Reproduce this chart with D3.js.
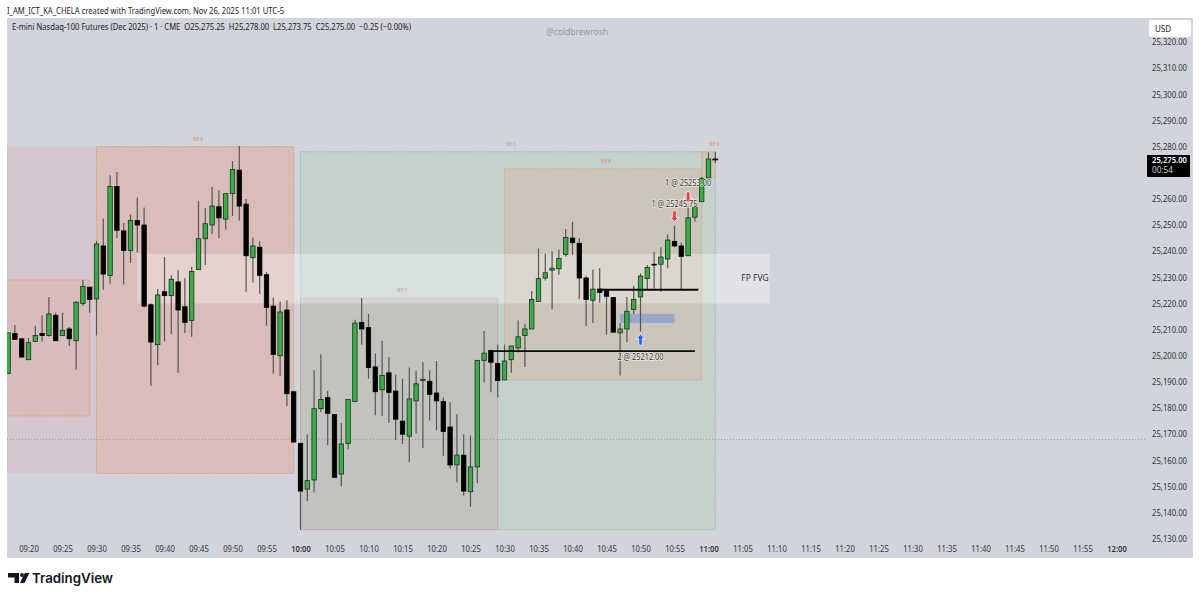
<!DOCTYPE html>
<html>
<head>
<meta charset="utf-8">
<script src="https://cdn.jsdelivr.net/npm/d3@7"></script>
<style>
html, body { margin: 0; padding: 0; background: #fff; }
svg { display: block; font-family: "Noto Sans", sans-serif; }
</style>
</head>
<body>
<svg id="chart" width="1200" height="598"></svg>
<script>
'use strict';

// minutes since midnight of the first bar (09:17), one bar per minute
var firstBar = 557;

var opens = [25193.25,25208.5,25206.5,25198.5,25205.5,25208.5,25207.75,25215.5,25207.75,25210.25,25205.75,25220,25226.25,25221.75,25242,25230.75,25264.75,25247.75,25240.25,25251.75,25250,25219.5,25204.25,25224.5,25223,25228.25,25218.75,25213.5,25233,25244.75,25250,25257,25252.25,25262,25271,25258,25237.5,25241.5,25231,25219,25200,25217.5,25186.25,25166.5,25149,25152.5,25179.75,25184,25177.5,25154.75,25166.5,25182.5,25212.75,25210.75,25195.75,25187,25193.5,25186.5,25175,25169.25,25182.75,25190.5,25190.25,25185.75,25182.5,25172.75,25158.25,25162,25148,25157.5,25198.25,25202,25197,25190.75,25198.5,25203,25207.75,25210.25,25220.75,25229.75,25232.75,25233.25,25238.75,25245,25243,25229.75,25221.25,25225.5,25225,25222.25,25208.75,25210.25,25217.75,25222.5,25229.5,25235,25235,25237,25243.75,25242,25238.25,25253,25259,25268,25275.25];
var highs = [25208.75,25211.75,25206.5,25206.75,25211.5,25215.5,25222.5,25216.5,25216.5,25211,25220.75,25229,25226.25,25244,25252.5,25269,25270.25,25250.75,25254,25260.5,25256.75,25220,25225.5,25237.75,25230.75,25232.75,25229.75,25234,25259.25,25256.5,25264.5,25263.25,25262,25274.5,25280.25,25260,25245.25,25243.75,25232,25222.25,25220.75,25221.25,25186.25,25166.5,25170,25194.5,25200.5,25186.5,25177.5,25174.25,25183.25,25213.75,25222,25216,25201,25205.75,25199.5,25192.75,25191.25,25195.5,25194.25,25197.5,25194.5,25198,25184,25182.25,25177.5,25170,25169.5,25198.25,25209.5,25202.25,25204.25,25204.25,25203.75,25213.5,25212.25,25224.75,25241,25239,25240,25240.5,25248.5,25251.25,25245,25230.5,25233,25233.5,25225.5,25222.25,25212.5,25222.5,25226.75,25231.5,25234.75,25239.75,25241.5,25246.5,25249.75,25243.25,25257,25258,25268.5,25277.75,25278];
var lows = [25193.25,25206.25,25199.5,25198.5,25205.5,25205.5,25207.25,25205.75,25207.75,25203.75,25194.75,25219,25216.5,25207.75,25225.25,25227.5,25245,25227.25,25235.5,25239.5,25218.5,25188.5,25196.5,25205.5,25208.25,25193.5,25208.75,25207.25,25233,25234.75,25246.5,25245,25248.25,25253.5,25251.75,25224.5,25228,25223.75,25211.5,25193.25,25192.25,25180.75,25167,25133.5,25144.5,25147.75,25178.5,25165.75,25153.5,25150,25164.25,25182.5,25204.25,25191.25,25177.25,25177,25174.25,25167.75,25166.25,25159.25,25170.25,25164.75,25175.25,25171.5,25161.75,25156.75,25151.5,25146.5,25142.25,25151.25,25189.75,25186,25184,25190.75,25193.5,25201.25,25195.75,25210.25,25220.75,25228.75,25217.75,25231,25238,25238.5,25221.75,25211.25,25212.5,25220.25,25208,25209,25192.5,25205.25,25216,25209.25,25225.25,25225.75,25224.5,25233.5,25241.5,25225.5,25238.25,25251.25,25259,25268,25273.75];
var closes = [25208.75,25206.25,25199.5,25205,25207.75,25207.75,25216,25205.75,25209.75,25206.5,25220.5,25226.5,25221.5,25242.75,25231.25,25264.75,25248,25240.25,25251.75,25250,25219,25205.25,25223.25,25223,25229.25,25217.5,25212.75,25232.25,25244.75,25250.5,25257.25,25252.75,25262,25271.25,25257.25,25238.25,25242,25230.75,25218.5,25200.5,25216.75,25185.5,25167,25148.25,25152.25,25179.75,25183.25,25178,25153.5,25166.25,25183.25,25212.5,25210.25,25195.5,25186.25,25192.5,25186,25175.75,25170,25183.5,25189.25,25191,25185.25,25182.75,25171,25158.25,25162,25148.25,25157.5,25198.25,25201,25197.5,25190.5,25198,25203.75,25207.25,25210.25,25221.5,25229.5,25231.75,25233.5,25237.25,25245.25,25243.25,25229.75,25221.5,25225.5,25224.25,25222.75,25209,25210.25,25217,25221.5,25230.5,25233.75,25234.75,25237.75,25244.25,25242,25238,25252.75,25256.75,25267.75,25275.25,25275];

// 25,270 sits behind the last price flag, so it is left out
var priceTicks = [25320,25310,25300,25290,25280,25260,25250,25240,25230,25220,25210,25200,25190,25180,25170,25160,25150,25140,25130];
var timeTicks = [560,565,570,575,580,585,590,595,600,605,610,615,620,625,630,635,640,645,650,655,660,665,670,675,680,685,690,695,700,705,710,715,720];
var boldTimes = [600,660,720];

// session boxes: minutes and prices
var boxNames = ["NY 5","NY 4","NY 6","NY C","NY 7","NY 8","NY 9"];
var boxStart = [540,540,570,600,600,630,659];
var boxEnd = [570,569,599,661,629,659,661];
var boxTop = [25280,25229,25280,25278,25222,25271.5,25278];
var boxBottom = [25155,25177,25155,25133.5,25133.5,25190.75,25268];
var boxFill = ["#d6c6cf","#d7bcbb","#d9bdb9","#c3d2ce","#c2c2bf","#cac5b8","#cac6b9"];
var boxStroke = ["none","#e39a7c","#e39a7c","#93c39c","#c49a96","#dba883","#dba883"];
var boxLabelColor = ["none","none","#e8985e","#8cc596","#c0726c","#e8985e","#e8985e"];

var fvgPrices = [25239,25220];
var fvgTimes = [576,669];
var blueZonePrices = [25216,25212.5];
var blueZoneTimes = [647,655];
var lineLevels = [25225.25,25201.75];
var lineStart = [644,628];
var lineEnd = [658.5,658];
var tradeTexts = ["1 @ 25253.00","1 @ 25245.75","2 @ 25212.00"];
var tradeTime = [657,655,650];
var tradePrice = [25264.9,25256.9,25198.4];
var arrowTime = [650,655,657];
var arrowPrice = [25208.25,25251.25,25258.5];
var arrowDir = [1,-1,-1];
var arrowColor = ["#2962ff","#f23645","#f23645"];
var sessionLow = 25168;
var lastPrice = "25,275.00";
var countdown = "00:54";

var paneLeft = 7, paneRight = 1193, plotRight = 1147, paneTop = 18, paneBottom = 558;

var x = d3.scaleLinear().domain([600, 660]).range([300.5, 708.5]);
var y = d3.scaleLinear().domain([25320, 25130]).range([42, 538.8]);

var svg = d3.select("#chart");

svg.append("rect").attr("x", paneLeft).attr("y", paneTop).attr("width", paneRight - paneLeft).attr("height", paneBottom - paneTop).attr("fill", "#d1d4dc");

svg.append("defs").append("clipPath").attr("id", "plot")
    .append("rect").attr("x", paneLeft).attr("y", paneTop).attr("width", plotRight - paneLeft).attr("height", paneBottom - paneTop);

var plot = svg.append("g").attr("clip-path", "url(#plot)");

// boxes
plot.selectAll("rect.box").data(boxNames).enter().append("rect")
    .attr("class", "box")
    .attr("x", function (d, i) { return x(boxStart[i]); })
    .attr("y", function (d, i) { return y(boxTop[i]); })
    .attr("width", function (d, i) { return x(boxEnd[i]) - x(boxStart[i]); })
    .attr("height", function (d, i) { return y(boxBottom[i]) - y(boxTop[i]); })
    .attr("fill", function (d, i) { return boxFill[i]; })
    .attr("stroke", function (d, i) { return boxStroke[i]; })
    .attr("stroke-width", 1)
    .attr("stroke-dasharray", "1.5 1");

// only the boxes inside the view show their name
boxNames.forEach(function (name, i) {
    if (boxLabelColor[i] === "none") return;
    plot.append("text")
        .attr("x", name === "NY 9" ? x(boxEnd[i]) - 1 : (x(boxStart[i]) + x(boxEnd[i])) / 2 + 3)
        .attr("y", y(boxTop[i]) - 6)
        .attr("text-anchor", "middle")
        .attr("font-size", 4.5)
        .attr("font-weight", 600)
        .attr("fill", boxLabelColor[i])
        .text(name);
});

// fair value gap band
plot.append("rect")
    .attr("x", x(fvgTimes[0])).attr("y", y(fvgPrices[0]))
    .attr("width", x(fvgTimes[1]) - x(fvgTimes[0]))
    .attr("height", y(fvgPrices[1]) - y(fvgPrices[0]))
    .attr("fill", "#fff").attr("fill-opacity", 0.32);

plot.append("text")
    .attr("x", 755).attr("y", 281)
    .attr("text-anchor", "middle").attr("font-size", 8.5).attr("fill", "#333")
    .text("FP FVG");

plot.append("rect")
    .attr("x", x(blueZoneTimes[0])).attr("y", y(blueZonePrices[0]))
    .attr("width", x(blueZoneTimes[1]) - x(blueZoneTimes[0]))
    .attr("height", y(blueZonePrices[1]) - y(blueZonePrices[0]))
    .attr("fill", "#9aa8cc");

plot.append("line")
    .attr("x1", paneLeft).attr("x2", plotRight)
    .attr("y1", y(sessionLow)).attr("y2", y(sessionLow))
    .attr("stroke", "#8a8a8a").attr("stroke-width", 0.7).attr("stroke-dasharray", "1 2");

// candles
var candles = plot.selectAll("g.candle").data(opens).enter().append("g")
    .attr("class", "candle")
    .attr("transform", function (d, i) { return "translate(" + x(firstBar + i) + ",0)"; });

candles.append("line")
    .attr("y1", function (d, i) { return y(highs[i]); })
    .attr("y2", function (d, i) { return y(lows[i]); })
    .attr("stroke", "#555").attr("stroke-width", 1.2);

candles.append("rect")
    .attr("x", -2.2).attr("width", 4.4)
    .attr("y", function (d, i) { return y(Math.max(opens[i], closes[i])); })
    .attr("height", function (d, i) { return Math.max(0.8, Math.abs(y(opens[i]) - y(closes[i]))); })
    .attr("fill", function (d, i) { return closes[i] >= opens[i] ? "#3cab4a" : "#000"; })
    .attr("stroke", function (d, i) { return closes[i] >= opens[i] ? "#14301a" : "#000"; })
    .attr("stroke-width", 0.8);

// horizontal levels
plot.selectAll("line.level").data(lineLevels).enter().append("line")
    .attr("class", "level")
    .attr("x1", function (d, i) { return x(lineStart[i]); })
    .attr("x2", function (d, i) { return x(lineEnd[i]); })
    .attr("y1", function (d) { return y(d); })
    .attr("y2", function (d) { return y(d); })
    .attr("stroke", "#0a0a0a").attr("stroke-width", 1.8);

// trade arrows and their labels
plot.selectAll("path.arrow").data(arrowTime).enter().append("path")
    .attr("class", "arrow")
    .attr("transform", function (d, i) { return "translate(" + x(d) + "," + y(arrowPrice[i]) + ") scale(1," + arrowDir[i] + ")"; })
    .attr("d", "M0,0 L4.5,4.8 L1.8,4.2 L1.8,11 L-1.8,11 L-1.8,4.2 L-4.5,4.8 Z")
    .attr("fill", function (d, i) { return arrowColor[i]; })
    .attr("stroke", "#fff").attr("stroke-opacity", 0.8).attr("stroke-width", 0.9);

plot.selectAll("text.trade").data(tradeTexts).enter().append("text")
    .attr("class", "trade")
    .attr("x", function (d, i) { return x(tradeTime[i]); })
    .attr("y", function (d, i) { return y(tradePrice[i]); })
    .attr("text-anchor", "middle").attr("font-size", 8.8).attr("fill", "#333")
    .attr("textLength", 46).attr("lengthAdjust", "spacingAndGlyphs")
    .attr("stroke", "#fff").attr("stroke-opacity", 0.6).attr("stroke-width", 1.6)
    .attr("paint-order", "stroke")
    .text(function (d) { return d; });

// last bar crosshair tick
plot.append("line")
    .attr("x1", x(firstBar + opens.length - 1) - 3).attr("x2", x(firstBar + opens.length - 1) + 3)
    .attr("y1", y(25275)).attr("y2", y(25275))
    .attr("stroke", "#111").attr("stroke-width", 1);

// axes
var priceAxis = d3.axisRight(y).tickValues(priceTicks).tickSize(0).tickPadding(0)
    .tickFormat(function (d) { return d3.format(",.2f")(d); });
var ga = svg.append("g").attr("transform", "translate(1152,0)").call(priceAxis);
ga.select(".domain").remove();
ga.selectAll("text").attr("font-size", 8.6).attr("font-family", "Noto Sans").attr("fill", "#333")
    .attr("textLength", 35).attr("lengthAdjust", "spacingAndGlyphs");

var timeAxis = d3.axisBottom(x).tickValues(timeTicks).tickSize(0).tickPadding(0)
    .tickFormat(function (d) { return d3.format("02")(Math.floor(d / 60)) + ":" + d3.format("02")(d % 60); });
var gt = svg.append("g").attr("transform", "translate(0,546)").call(timeAxis);
gt.select(".domain").remove();
gt.selectAll("text").attr("font-size", 8.6).attr("font-family", "Noto Sans").attr("fill", "#333")
    .attr("textLength", 19.5).attr("lengthAdjust", "spacingAndGlyphs")
    .attr("font-weight", function (d) { return boldTimes.indexOf(d) >= 0 ? 600 : 400; });

// last price flag
svg.append("rect").attr("x", 1147).attr("y", 155).attr("width", 43).attr("height", 22).attr("fill", "#000");
svg.append("text").attr("x", 1152).attr("y", 163).attr("font-size", 8.6).attr("font-weight", 600).attr("fill", "#fff")
    .attr("textLength", 35).attr("lengthAdjust", "spacingAndGlyphs").text(lastPrice);
svg.append("text").attr("x", 1152).attr("y", 173).attr("font-size", 8.2).attr("fill", "#ccc").text(countdown);

svg.append("rect").attr("x", 1149).attr("y", 20).attr("width", 42).attr("height", 17).attr("rx", 2).attr("fill", "#fff");
svg.append("text").attr("x", 1155).attr("y", 32).attr("font-size", 8).attr("fill", "#222").text("USD");

// header texts
svg.append("text").attr("x", 7).attr("y", 13.5).attr("font-size", 8.6).attr("fill", "#222")
    .attr("textLength", 277).attr("lengthAdjust", "spacingAndGlyphs")
    .text("I_AM_ICT_KA_CHELA created with TradingView.com, Nov 26, 2025 11:01 UTC-5");
svg.append("text").attr("x", 12).attr("y", 29.5).attr("font-size", 8.6).attr("fill", "#222")
    .attr("style", "white-space: pre")
    .attr("textLength", 399).attr("lengthAdjust", "spacingAndGlyphs")
    .text("E-mini Nasdaq-100 Futures (Dec 2025) · 1 · CME  O25,275.25  H25,278.00  L25,273.75  C25,275.00  −0.25 (−0.00%)");
svg.append("text").attr("x", 577).attr("y", 35).attr("text-anchor", "middle").attr("font-size", 8.5).attr("fill", "#8f95a3")
    .text("@coldbrewrosh");

// logo
svg.append("path").attr("fill", "#131722")
    .attr("d", "M8,573 H19 V583 H14.5 V577.5 H8 Z M29.3,573 L24.5,583 H20 L24.8,573 Z");
svg.append("circle").attr("cx", 22).attr("cy", 575).attr("r", 1.9).attr("fill", "#131722");
svg.append("text").attr("x", 32).attr("y", 583).attr("font-family", "Inter").attr("font-size", 13.3).attr("font-weight", 600).attr("fill", "#131722")
    .text("TradingView");
</script>
</body>
</html>
